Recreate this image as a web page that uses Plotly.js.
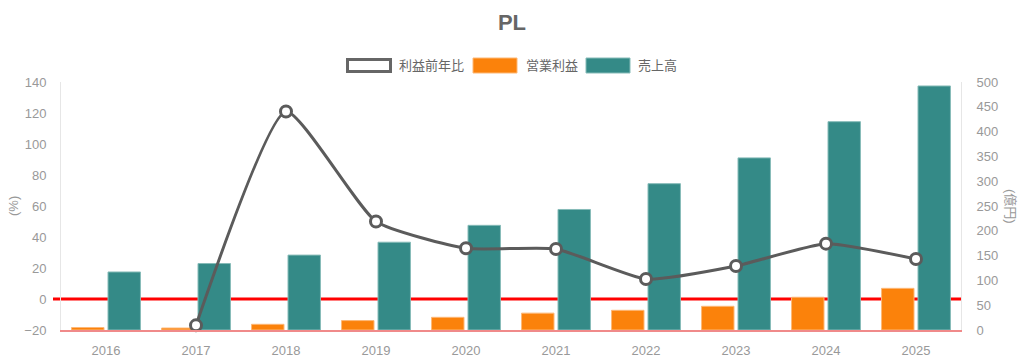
<!DOCTYPE html>
<html>
<head>
<meta charset="utf-8">
<script src="https://cdn.plot.ly/plotly-3.0.1.min.js"></script>
<style>html,body{margin:0;padding:0;background:#fff;}#chart{width:1024px;height:362px;}</style>
</head>
<body>
<div id="chart"></div>
<script>
// ---- data ----
var years = ['2016','2017','2018','2019','2020','2021','2022','2023','2024','2025'];
var profitGrowth = [null, -17, 121, 50, 32.7, 32.3, 12.9, 21.3, 35.7, 25.8]; // 利益前年比 (%)
var operatingProfit = [5, 4, 11.5, 19, 25.6, 34, 39.7, 47.8, 66, 84];     // 営業利益 (億円)
var sales = [117, 134, 151, 177, 211, 243, 295, 347, 420, 492];           // 売上高 (億円)
var seriesNames = ['利益前年比', '営業利益', '売上高'];
var chartTitle = 'PL';
var leftTitle = '(%)';
var rightTitle = '(億円)';

// ---- layout geometry ----
var W = 1024, H = 362;
var L = 61, R = 961, T = 82, B = 330;
function px(x){ return (x - L) / (R - L); }
function py(y){ return (B - y) / (B - T); }

var FONT = 'Liberation Sans, Arial, Noto Sans CJK JP, sans-serif';
var GRAY = '#666666';
var TICK = '#999999';
var TEAL = '#348a87';
var ORANGE = '#fb820b';
var LINEC = '#5b5b5b';
var FS = 13;

var traces = [
  {
    type: 'bar', name: seriesNames[1], x: years, y: operatingProfit,
    yaxis: 'y', marker: {color: ORANGE, line: {color: '#fdb877', width: 1}},
    hoverinfo: 'y'
  },
  {
    type: 'bar', name: seriesNames[2], x: years, y: sales,
    yaxis: 'y', marker: {color: TEAL, line: {color: '#86bbb8', width: 1}},
    hoverinfo: 'y'
  },
  {
    type: 'scatter', mode: 'lines+markers', name: seriesNames[0], x: years, y: profitGrowth,
    yaxis: 'y2', connectgaps: false, cliponaxis: false,
    line: {color: LINEC, width: 3, shape: 'spline', smoothing: 0.5},
    marker: {size: 11, color: '#ffffff', line: {color: LINEC, width: 3}},
    hoverinfo: 'y'
  }
];

var legendShapes = [
  {type: 'rect', xref: 'paper', yref: 'paper', x0: px(347.5), x1: px(390.5), y0: py(71.5), y1: py(59.5),
   line: {color: GRAY, width: 3}, fillcolor: '#ffffff'},
  {type: 'rect', xref: 'paper', yref: 'paper', x0: px(473), x1: px(517), y0: py(73), y1: py(58),
   line: {color: '#fdb877', width: 1}, fillcolor: ORANGE},
  {type: 'rect', xref: 'paper', yref: 'paper', x0: px(586), x1: px(630), y0: py(73), y1: py(58),
   line: {color: '#86bbb8', width: 1}, fillcolor: TEAL}
];

var shapes = [
  {type: 'line', xref: 'paper', yref: 'y2', x0: px(53), x1: 1, y0: 0, y1: 0,
   line: {color: '#ff0000', width: 3}, layer: 'below'}
].concat(legendShapes);

var annotations = [
  {xref: 'paper', yref: 'paper', x: px(397), y: py(65.5), text: seriesNames[0], showarrow: false,
   xanchor: 'left', yanchor: 'middle', font: {family: FONT, size: FS, color: GRAY}},
  {xref: 'paper', yref: 'paper', x: px(524), y: py(65.5), text: seriesNames[1], showarrow: false,
   xanchor: 'left', yanchor: 'middle', font: {family: FONT, size: FS, color: GRAY}},
  {xref: 'paper', yref: 'paper', x: px(636), y: py(65.5), text: seriesNames[2], showarrow: false,
   xanchor: 'left', yanchor: 'middle', font: {family: FONT, size: FS, color: GRAY}},
  {xref: 'paper', yref: 'paper', x: px(13), y: 0.5, text: leftTitle, showarrow: false, textangle: -90,
   xanchor: 'center', yanchor: 'middle', font: {family: FONT, size: FS, color: TICK}},
  {xref: 'paper', yref: 'paper', x: px(1011), y: 0.5, text: rightTitle, showarrow: false, textangle: 90,
   xanchor: 'center', yanchor: 'middle', font: {family: FONT, size: FS, color: TICK}}
];

var layout = {
  width: W, height: H,
  margin: {l: L, r: W - R, t: T, b: H - B, pad: 0},
  paper_bgcolor: '#ffffff', plot_bgcolor: '#ffffff',
  showlegend: false,
  title: {text: '<b>' + chartTitle + '</b>', x: 0.5, xref: 'container', xanchor: 'center',
          y: 1 - 22 / H, yref: 'container', yanchor: 'middle',
          font: {family: FONT, size: 22, color: GRAY}},
  barmode: 'group', bargap: 0.19, bargroupgap: 0.11,
  font: {family: FONT, size: FS, color: TICK},
  xaxis: {
    type: 'category', range: [-0.5, years.length - 0.5], autorange: false,
    showgrid: false, zeroline: false,
    showline: true, linecolor: '#f08a8a', linewidth: 2,
    ticks: '', ticklabelstandoff: 7, tickfont: {family: FONT, size: FS, color: TICK}
  },
  yaxis: {
    side: 'right', range: [0, 500], dtick: 50, tick0: 0,
    showgrid: false, zeroline: false, showline: true, linecolor: '#e6e6e6', linewidth: 1,
    ticks: '', ticklabelstandoff: 12, tickfont: {family: FONT, size: FS, color: TICK}
  },
  yaxis2: {
    overlaying: 'y', side: 'left', range: [-20, 140], dtick: 20, tick0: 0,
    showgrid: false, zeroline: false, showline: true, linecolor: '#e6e6e6', linewidth: 1,
    ticks: '', ticklabelstandoff: 11, tickfont: {family: FONT, size: FS, color: TICK}
  },
  shapes: shapes,
  annotations: annotations
};

Plotly.newPlot('chart', traces, layout, {displayModeBar: false, staticPlot: true});
</script>
</body>
</html>
